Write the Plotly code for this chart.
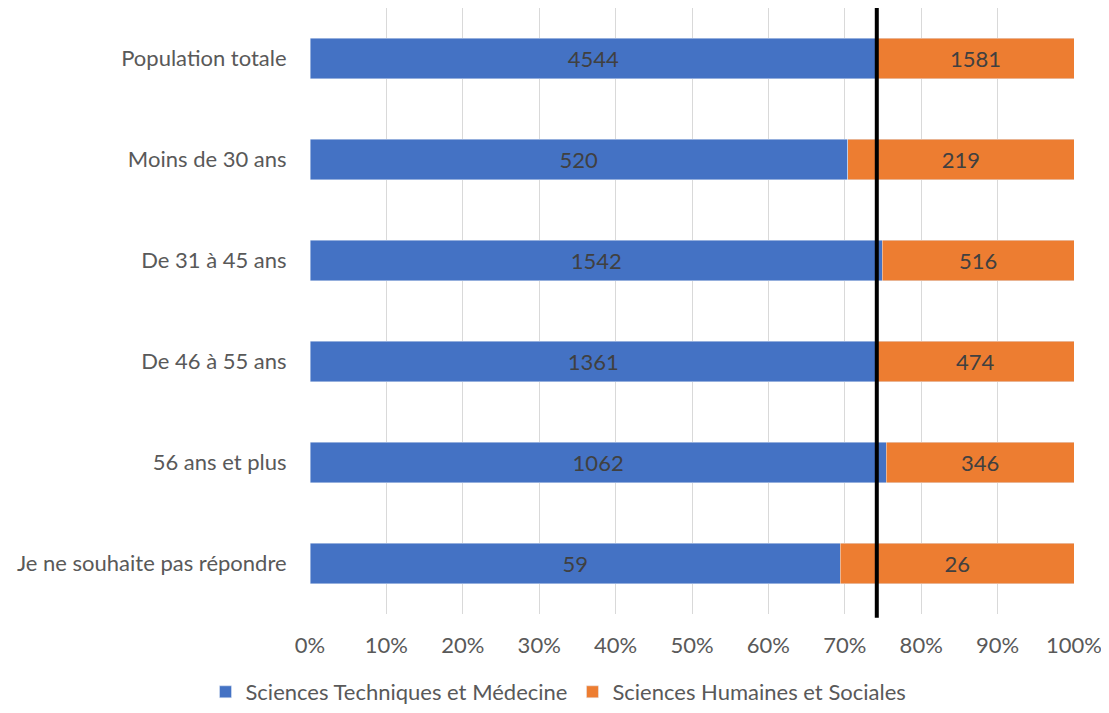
import plotly.graph_objects as go

categories = ["Population totale", "Moins de 30 ans", "De 31 à 45 ans",
              "De 46 à 55 ans", "56 ans et plus", "Je ne souhaite pas répondre"]
stm = [4544, 520, 1542, 1361, 1062, 59]
shs = [1581, 219, 516, 474, 346, 26]
tick_vals = [0, 10, 20, 30, 40, 50, 60, 70, 80, 90, 100]
tick_text = ["0%", "10%", "20%", "30%", "40%", "50%", "60%", "70%", "80%", "90%", "100%"]

# reference line = share of STM in the total population
ref_share = stm[0] / (stm[0] + shs[0]) * 100

font_family = "Lato, 'Open Sans', sans-serif"

fig = go.Figure()
fig.add_trace(go.Bar(
    y=categories, x=stm, name="Sciences Techniques et Médecine",
    orientation="h", marker_color="#4472C4",
    text=stm, textposition="inside", insidetextanchor="middle",
    textfont=dict(color="#404040", size=22),
))
fig.add_trace(go.Bar(
    y=categories, x=shs, name="Sciences Humaines et Sociales",
    orientation="h", marker_color="#ED7D31",
    text=shs, textposition="inside", insidetextanchor="middle",
    textfont=dict(color="#404040", size=22),
))

fig.add_shape(type="line", xref="x", yref="paper",
              x0=ref_share, x1=ref_share, y0=-0.006, y1=1.0,
              line=dict(color="black", width=4))

# page body adds an 8px offset, so the figure is drawn 8px smaller
fig.update_layout(
    barmode="stack",
    barnorm="percent",
    bargap=0.6,
    width=1101, height=705,
    margin=dict(l=302, r=35, t=0, b=99),
    plot_bgcolor="white", paper_bgcolor="white",
    font=dict(family=font_family, size=22, color="#595959"),
    uniformtext=dict(mode="show", minsize=10),
    legend=dict(orientation="h", xref="container", x=0.5, xanchor="center",
                yref="container", y=-0.004, yanchor="bottom",
                font=dict(size=22, color="#595959"), traceorder="normal"),
)
fig.update_xaxes(range=[0, 100], tickvals=tick_vals, ticktext=tick_text,
                 showgrid=True, gridcolor="#d9d9d9", gridwidth=1,
                 zeroline=False, showline=False, automargin=False,
                 ticks="outside", ticklen=12, tickcolor="rgba(0,0,0,0)")
fig.update_yaxes(autorange="reversed", showgrid=False, showline=False,
                 automargin=False,
                 ticks="outside", ticklen=18, tickcolor="rgba(0,0,0,0)")

fig.write_html("out.html")
